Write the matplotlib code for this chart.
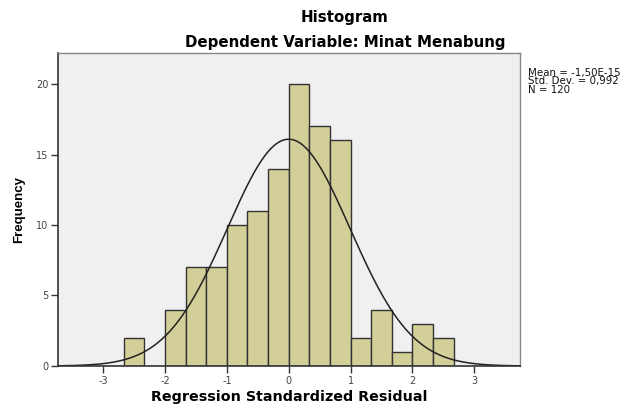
import numpy as np
import matplotlib
matplotlib.use("Agg")
import matplotlib.pyplot as plt

plt.rcParams['font.family'] = ['DejaVu Sans']

bin_edges = [-8/3, -7/3, -2, -5/3, -4/3, -1, -2/3, -1/3, 0, 1/3, 2/3, 1, 4/3, 5/3, 2, 7/3, 8/3]
counts = [2, 0, 4, 7, 7, 10, 11, 14, 20, 17, 16, 2, 4, 1, 3, 2]
mean = -1.50e-15
std = 0.992
n = 120
xticks = [-3, -2, -1, 0, 1, 2, 3]
yticks = [0, 5, 10, 15, 20]

fig = plt.figure(figsize=(6.25, 4.08), dpi=100)
ax = fig.add_axes([0.0928, 0.103, 0.7392, 0.767])
ax.set_facecolor('#f0f0f0')

edges = np.array(bin_edges)
widths = np.diff(edges)
for left, w, c in zip(edges[:-1], widths, counts):
    if c > 0:
        ax.bar(left, c, width=w, align='edge', color='#d3cf98', edgecolor='#333333', linewidth=1.0)

xs = np.linspace(-3.73, 3.74, 400)
bw = widths.mean()
ys = n * bw / (std * np.sqrt(2 * np.pi)) * np.exp(-0.5 * ((xs - mean) / std) ** 2)
ax.plot(xs, ys, color='#222222', linewidth=1.1)

ax.set_xlim(-3.73, 3.74)
ax.set_ylim(0, 22.2)
ax.set_xticks(xticks)
ax.set_xticklabels([str(t) for t in xticks])
ax.set_yticks(yticks)
ax.tick_params(axis='both', direction='out', length=5, width=1, color='#333333',
               labelsize=7, labelcolor='#444444', pad=2)

for s in ['left', 'bottom']:
    ax.spines[s].set_color('#333333')
    ax.spines[s].set_linewidth(1.2)
for s in ['top', 'right']:
    ax.spines[s].set_color('#888888')
    ax.spines[s].set_linewidth(1.0)

ax.set_xlabel('Regression Standardized Residual', fontsize=10.3, fontweight='bold', labelpad=3)
ax.set_ylabel('Frequency', fontsize=9.5, fontweight='bold', labelpad=8,
              family=['Liberation Sans', 'DejaVu Sans'])

fig.text(0.552, 0.956, 'Histogram', ha='center', va='center', fontsize=10.8, fontweight='bold')
fig.text(0.552, 0.897, 'Dependent Variable: Minat Menabung', ha='center', va='center', fontsize=10.8, fontweight='bold')

fig.text(0.845, 0.834, 'Mean = -1,50E-15\nStd. Dev. = 0,992\nN = 120', ha='left', va='top',
         fontsize=7.4, linespacing=0.8, color='#111111')

fig.savefig('out.png', dpi=100)
